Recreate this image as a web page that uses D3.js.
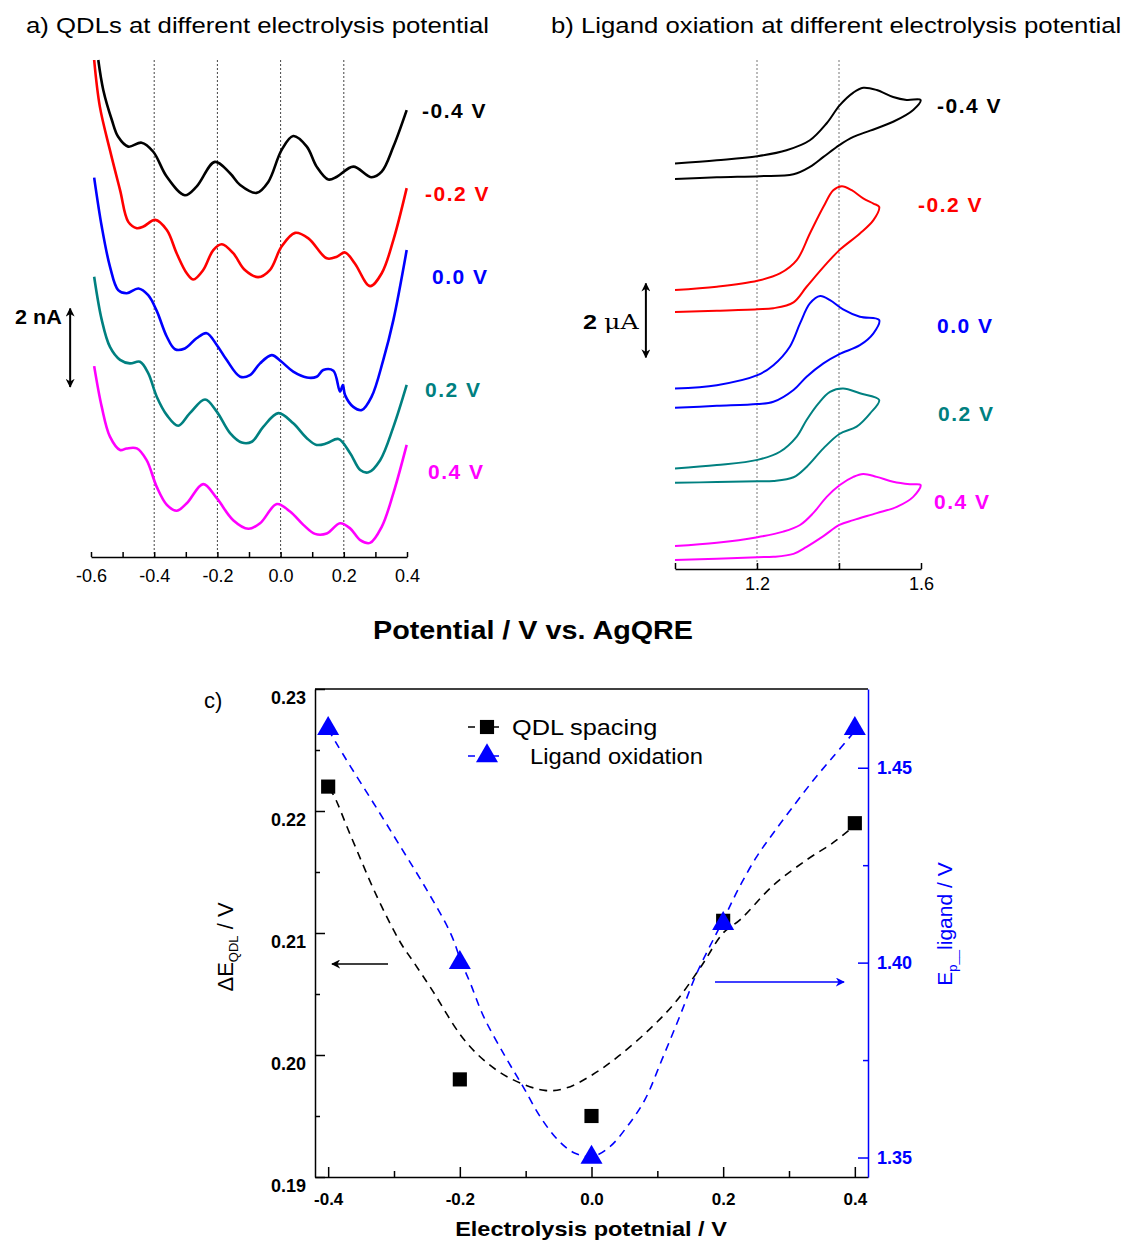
<!DOCTYPE html>
<html>
<head>
<meta charset="utf-8">
<script src="https://cdn.jsdelivr.net/npm/d3@7"></script>
<style>
  body { margin: 0; background: #fff; }
  svg { display: block; font-family: Arial, "Liberation Sans", sans-serif; }
</style>
</head>
<body>
<div class="canvas"></div>
<script>
// Panel a: QDL voltammograms, [potential V, current nA]
const electrolysis = ['-0.4 V', '-0.2 V', '0.0 V', '0.2 V', '0.4 V'];
const colors = ['#000000', '#ff0000', '#0000ff', '#008080', '#ff00ff'];

const qdlNeg04 = [[-0.577,12.68],[-0.561,11.91],[-0.534,11.15],[-0.514,10.72],[-0.482,10.47],[-0.440,10.57],[-0.403,10.34],[-0.360,9.70],[-0.303,9.23],[-0.266,9.45],[-0.208,10.08],[-0.160,9.79],[-0.128,9.49],[-0.076,9.29],[-0.039,9.57],[0.003,10.38],[0.040,10.74],[0.083,10.47],[0.114,9.96],[0.151,9.63],[0.178,9.70],[0.230,9.96],[0.288,9.69],[0.320,9.83],[0.357,10.47],[0.399,11.40]];
const qdlNeg02 = [[-0.590,12.68],[-0.572,11.49],[-0.540,10.38],[-0.508,9.36],[-0.482,8.55],[-0.455,8.39],[-0.434,8.43],[-0.397,8.60],[-0.360,8.34],[-0.329,7.75],[-0.297,7.24],[-0.276,7.08],[-0.245,7.32],[-0.213,7.83],[-0.186,7.98],[-0.150,7.75],[-0.113,7.32],[-0.071,7.14],[-0.034,7.32],[0.003,7.92],[0.046,8.27],[0.088,8.13],[0.146,7.62],[0.178,7.66],[0.204,7.77],[0.235,7.49],[0.283,6.91],[0.320,7.24],[0.357,8.09],[0.399,9.41]];
const qdl00 = [[-0.590,9.68],[-0.566,8.43],[-0.540,7.41],[-0.514,6.81],[-0.487,6.73],[-0.450,6.85],[-0.419,6.68],[-0.392,6.28],[-0.360,5.62],[-0.334,5.30],[-0.303,5.32],[-0.266,5.58],[-0.234,5.71],[-0.202,5.41],[-0.171,5.03],[-0.128,4.60],[-0.097,4.64],[-0.065,4.94],[-0.028,5.15],[0.003,4.98],[0.040,4.73],[0.083,4.58],[0.114,4.60],[0.135,4.77],[0.167,4.75],[0.188,4.22],[0.197,4.39],[0.204,4.13],[0.230,3.83],[0.257,3.75],[0.288,4.09],[0.325,5.03],[0.357,6.05],[0.399,7.83]];
const qdlPos02 = [[-0.590,7.15],[-0.566,6.05],[-0.540,5.36],[-0.508,5.03],[-0.477,4.94],[-0.445,4.98],[-0.419,4.69],[-0.392,4.09],[-0.360,3.62],[-0.324,3.35],[-0.287,3.67],[-0.239,4.02],[-0.202,3.71],[-0.160,3.16],[-0.123,2.92],[-0.091,2.94],[-0.055,3.32],[-0.007,3.67],[0.040,3.41],[0.083,3.03],[0.114,2.86],[0.146,2.90],[0.183,3.01],[0.220,2.65],[0.252,2.22],[0.278,2.16],[0.315,2.47],[0.357,3.32],[0.399,4.39]];
const qdlPos04 = [[-0.590,4.87],[-0.566,3.83],[-0.540,3.07],[-0.508,2.73],[-0.487,2.77],[-0.455,2.77],[-0.424,2.47],[-0.392,1.79],[-0.360,1.33],[-0.329,1.18],[-0.297,1.37],[-0.245,1.86],[-0.202,1.50],[-0.150,0.94],[-0.102,0.72],[-0.065,0.86],[-0.012,1.35],[0.030,1.16],[0.072,0.82],[0.109,0.59],[0.146,0.60],[0.188,0.86],[0.220,0.73],[0.252,0.43],[0.283,0.36],[0.320,0.77],[0.357,1.63],[0.399,2.86]];
const qdlCurves = [qdlNeg04, qdlNeg02, qdl00, qdlPos02, qdlPos04];
const qdlLabelCurrent = [11.40, 9.29, 7.17, 4.29, 2.19];

// Panel b: ligand CV loops, [potential V, current uA]
const cvNeg04 = [[1.000,10.96],[1.102,11.05],[1.201,11.16],[1.272,11.32],[1.329,11.59],[1.370,12.05],[1.402,12.54],[1.435,12.88],[1.459,13.01],[1.492,12.95],[1.532,12.76],[1.565,12.68],[1.599,12.68],[1.581,12.41],[1.532,12.09],[1.476,11.85],[1.435,11.68],[1.401,11.46],[1.362,11.14],[1.329,10.87],[1.289,10.67],[1.207,10.62],[1.102,10.59],[1.000,10.54]];
const cvNeg02 = [[1.000,7.54],[1.102,7.63],[1.201,7.79],[1.256,7.99],[1.297,8.35],[1.329,9.07],[1.362,9.79],[1.386,10.24],[1.407,10.35],[1.431,10.24],[1.459,10.02],[1.484,9.88],[1.498,9.79],[1.484,9.43],[1.451,9.07],[1.401,8.62],[1.370,8.26],[1.321,7.63],[1.289,7.21],[1.240,7.05],[1.201,7.02],[1.102,6.98],[1.000,6.95]];
const cv00 = [[1.000,4.88],[1.102,4.97],[1.201,5.24],[1.240,5.51],[1.280,6.01],[1.305,6.64],[1.329,7.18],[1.354,7.38],[1.378,7.27],[1.410,7.02],[1.451,6.82],[1.498,6.73],[1.484,6.37],[1.451,6.05],[1.401,5.81],[1.362,5.56],[1.321,5.20],[1.289,4.84],[1.240,4.52],[1.201,4.46],[1.102,4.41],[1.000,4.36]];
const cvPos02 = [[1.000,2.72],[1.102,2.81],[1.201,2.95],[1.256,3.17],[1.297,3.58],[1.321,4.03],[1.350,4.48],[1.378,4.79],[1.410,4.88],[1.451,4.75],[1.498,4.57],[1.476,4.21],[1.443,3.85],[1.401,3.65],[1.362,3.26],[1.321,2.76],[1.289,2.48],[1.240,2.38],[1.201,2.37],[1.102,2.35],[1.000,2.33]];
const cvPos04 = [[1.000,0.62],[1.102,0.71],[1.201,0.86],[1.264,1.01],[1.305,1.19],[1.337,1.51],[1.370,1.95],[1.402,2.27],[1.435,2.49],[1.459,2.57],[1.492,2.49],[1.532,2.36],[1.573,2.29],[1.599,2.27],[1.581,1.95],[1.541,1.68],[1.492,1.51],[1.435,1.32],[1.401,1.19],[1.362,0.89],[1.321,0.60],[1.289,0.41],[1.240,0.33],[1.201,0.32],[1.102,0.28],[1.000,0.24]];
const cvCurves = [cvNeg04, cvNeg02, cv00, cvPos02, cvPos04];
const cvLabelCurrent = [12.54, 9.86, 6.59, 4.22, 1.84];

// Panel c: peak data
const electrolysisV = [-0.4, -0.2, 0.0, 0.2, 0.4];
const qdlSpacing = [0.222, 0.198, 0.195, 0.211, 0.219];
const ligandOx = [1.46, 1.40, 1.35, 1.41, 1.46];
// dashed guide curves
const qdlFit = [[-0.400,0.2218],[-0.394,0.2215],[-0.366,0.2180],[-0.326,0.2130],[-0.290,0.2092],[-0.270,0.2076],[-0.243,0.2054],[-0.197,0.2015],[-0.164,0.1996],[-0.124,0.1981],[-0.071,0.1971],[-0.038,0.1973],[0.002,0.1984],[0.041,0.1999],[0.088,0.2021],[0.127,0.2043],[0.167,0.2073],[0.200,0.2100],[0.226,0.2111],[0.276,0.2139],[0.327,0.2160],[0.367,0.2174],[0.393,0.2185]];
const ligandFit = [[-0.400,1.4599],[-0.389,1.4567],[-0.366,1.4503],[-0.331,1.4409],[-0.290,1.4297],[-0.250,1.4186],[-0.214,1.4075],[-0.197,1.3998],[-0.184,1.3947],[-0.164,1.3862],[-0.131,1.3759],[-0.104,1.3682],[-0.078,1.3605],[-0.051,1.3545],[-0.025,1.3511],[0.002,1.3503],[0.028,1.3528],[0.054,1.3579],[0.081,1.3648],[0.107,1.3751],[0.134,1.3862],[0.160,1.3973],[0.200,1.4109],[0.225,1.4195],[0.251,1.4272],[0.276,1.4332],[0.306,1.4400],[0.337,1.4468],[0.367,1.4528],[0.397,1.4588]];

// Containers
const svg = d3.select('.canvas')
    .append('svg')
    .attr('width', 1125)
    .attr('height', 1240);

const defs = svg.append('defs');
const addHead = (id, col) => defs.append('marker')
    .attr('id', id)
    .attr('viewBox', '0 0 10 10')
    .attr('refX', 9).attr('refY', 5)
    .attr('markerWidth', 9).attr('markerHeight', 9)
    .attr('markerUnits', 'userSpaceOnUse')
    .attr('orient', 'auto-start-reverse')
    .append('path').attr('fill', col)
    .attr('d', 'M0,0 L10,5 L0,10 L3,5 Z');
addHead('head', '#000');
addHead('headBlue', '#0000ff');

// text drawn a little wider, like the original figure
const wideText = (parent, x, y, sx, size) => parent.append('text')
    .attr('transform', `translate(${x},${y}) scale(${sx},1)`)
    .attr('font-size', size);

const fmt = d => d.toFixed(1);

// ---------- Panel a ----------
const xA = d3.scaleLinear().domain([-0.6, 0.4]).range([91, 407]);
const yA = d3.scaleLinear().domain([0, 12.68]).range([557, 60]);
const gA = svg.append('g');

wideText(gA, 26, 33, 1.17, 22).text('a) QDLs at different electrolysis potential');

gA.selectAll('.grid').data([-0.4, -0.2, 0.0, 0.2]).enter()
    .append('line')
    .attr('x1', d => xA(d)).attr('x2', d => xA(d))
    .attr('y1', 60).attr('y2', 557)
    .attr('stroke', '#444').attr('stroke-width', 1)
    .attr('stroke-dasharray', '2,2');

const axisA = gA.append('g')
    .attr('transform', 'translate(0,557)')
    .call(d3.axisBottom(xA)
        .tickValues(d3.range(-6, 5).map(i => i / 10))
        .tickSize(-5).tickSizeOuter(0).tickPadding(12)
        .tickFormat(d => (Math.round(d * 10) % 2 === 0 ? fmt(d) : '')));
axisA.select('.domain').attr('stroke-width', 1.5);
axisA.selectAll('.tick line').attr('stroke-width', 1.5);
axisA.selectAll('text').attr('font-size', 18).attr('fill', '#000');

const lineA = d3.line()
    .x(d => xA(d[0])).y(d => yA(d[1]))
    .curve(d3.curveCatmullRom);

gA.selectAll('.qdl').data(qdlCurves).enter()
    .append('path')
    .attr('d', lineA)
    .attr('fill', 'none')
    .attr('stroke', (d, i) => colors[i])
    .attr('stroke-width', 2.6);

gA.selectAll('.qlab').data(electrolysis).enter()
    .append('text')
    .attr('x', (d, i) => [422, 425, 432, 425, 428][i])
    .attr('y', (d, i) => yA(qdlLabelCurrent[i]) + 8)
    .attr('font-size', 21).attr('font-weight', 'bold')
    .attr('letter-spacing', 1.5)
    .attr('fill', (d, i) => colors[i])
    .text(d => d);

// 2 nA scale bar
gA.append('line')
    .attr('x1', xA(-0.666)).attr('x2', xA(-0.666))
    .attr('y1', yA(4.34)).attr('y2', yA(6.34))
    .attr('stroke', '#000').attr('stroke-width', 2)
    .attr('marker-start', 'url(#head)').attr('marker-end', 'url(#head)');
wideText(gA, 15, 324, 1.08, 20).attr('font-weight', 'bold').text('2 nA');

// ---------- Panel b ----------
const xB = d3.scaleLinear().domain([1.0, 1.6]).range([675, 921]);
const yB = d3.scaleLinear().domain([0, 13.76]).range([569, 60]);
const gB = svg.append('g');

wideText(gB, 551, 33, 1.17, 22).text('b) Ligand oxiation at different electrolysis potential');

gB.selectAll('.grid').data([1.2, 1.4]).enter()
    .append('line')
    .attr('x1', d => xB(d)).attr('x2', d => xB(d))
    .attr('y1', 60).attr('y2', 569)
    .attr('stroke', '#777').attr('stroke-width', 1)
    .attr('stroke-dasharray', '2,2');

const axisB = gB.append('g')
    .attr('transform', 'translate(0,569)')
    .call(d3.axisBottom(xB)
        .tickValues([1.0, 1.2, 1.4, 1.6])
        .tickSize(-6).tickSizeOuter(0).tickPadding(8)
        .tickFormat(d => (d === 1.2 || d === 1.6 ? fmt(d) : '')));
axisB.select('.domain').attr('stroke-width', 1.5);
axisB.selectAll('.tick line').attr('stroke-width', 1.5);
axisB.selectAll('text').attr('font-size', 18).attr('fill', '#000');

const lineB = d3.line()
    .x(d => xB(d[0])).y(d => yB(d[1]))
    .curve(d3.curveCatmullRom);

gB.selectAll('.cv').data(cvCurves).enter()
    .append('path')
    .attr('d', lineB)
    .attr('fill', 'none')
    .attr('stroke', (d, i) => colors[i])
    .attr('stroke-width', 2);

gB.selectAll('.clab').data(electrolysis).enter()
    .append('text')
    .attr('x', (d, i) => [937, 918, 937, 938, 934][i])
    .attr('y', (d, i) => yB(cvLabelCurrent[i]) + 8)
    .attr('font-size', 21).attr('font-weight', 'bold')
    .attr('letter-spacing', 1.5)
    .attr('fill', (d, i) => colors[i])
    .text(d => d);

// 2 uA scale bar
gB.append('line')
    .attr('x1', xB(0.929)).attr('x2', xB(0.929))
    .attr('y1', yB(5.72)).attr('y2', yB(7.72))
    .attr('stroke', '#000').attr('stroke-width', 2)
    .attr('marker-start', 'url(#head)').attr('marker-end', 'url(#head)');
const uA = wideText(gB, 583, 329, 1.2, 21).attr('font-weight', 'bold');
uA.append('tspan').text('2 ');
uA.append('tspan').attr('font-family', '"DejaVu Serif", serif').attr('font-weight', 'normal').text('\u03bcA');

wideText(svg, 533, 639, 1.15, 25)
    .attr('text-anchor', 'middle').attr('font-weight', 'bold')
    .text('Potential / V vs. AgQRE');

// ---------- Panel c ----------
const xC = d3.scaleLinear().domain([-0.42, 0.42]).range([315, 868]);
const yL = d3.scaleLinear().domain([0.19, 0.23]).range([1177, 689]);
const yR = d3.scaleLinear().domain([1.345, 1.4702]).range([1177, 689]);
const gC = svg.append('g');

gC.append('text').attr('x', 204).attr('y', 708).attr('font-size', 22).text('c)');

// frame top
gC.append('line').attr('x1', 315).attr('x2', 868).attr('y1', 689).attr('y2', 689)
    .attr('stroke', '#000').attr('stroke-width', 1.5);

const axisBottomC = gC.append('g')
    .attr('transform', 'translate(0,1177)')
    .call(d3.axisBottom(xC)
        .tickValues(d3.range(-4, 5).map(i => i / 10))
        .tickSize(-10).tickSizeOuter(0).tickPadding(16)
        .tickFormat(d => (Math.round(d * 10) % 2 === 0 ? fmt(d) : '')));
axisBottomC.selectAll('.tick').filter(d => Math.round(d * 10) % 2 !== 0)
    .select('line').attr('y2', -6);
axisBottomC.select('.domain').attr('stroke-width', 1.5);
axisBottomC.selectAll('.tick line').attr('stroke-width', 1.5);
axisBottomC.selectAll('text').attr('font-size', 17).attr('font-weight', 'bold').attr('fill', '#000');

const axisLeftC = gC.append('g')
    .attr('transform', 'translate(315,0)')
    .call(d3.axisLeft(yL)
        .tickValues(d3.range(0, 9).map(i => 0.19 + i * 0.005))
        .tickSize(-10).tickSizeOuter(0).tickPadding(9)
        .tickFormat((d, i) => (i % 2 === 0 ? d.toFixed(2) : '')));
axisLeftC.selectAll('.tick').filter((d, i) => i % 2 !== 0)
    .select('line').attr('x2', 5);
axisLeftC.select('.domain').attr('stroke-width', 1.5);
axisLeftC.selectAll('.tick line').attr('stroke-width', 1.5);
axisLeftC.selectAll('text').attr('font-size', 18).attr('font-weight', 'bold')
    .attr('fill', '#000').attr('dy', '0.8em');

const axisRightC = gC.append('g')
    .attr('transform', 'translate(868,0)')
    .call(d3.axisRight(yR)
        .tickValues([1.35, 1.375, 1.40, 1.425, 1.45])
        .tickSize(-10).tickSizeOuter(0).tickPadding(9)
        .tickFormat((d, i) => (i % 2 === 0 ? d.toFixed(2) : '')));
axisRightC.selectAll('.tick').filter((d, i) => i % 2 !== 0)
    .select('line').attr('x2', -5);
axisRightC.select('.domain').attr('stroke', '#0000ff').attr('stroke-width', 1.5);
axisRightC.selectAll('.tick line').attr('stroke', '#0000ff').attr('stroke-width', 1.5);
axisRightC.selectAll('text').attr('font-size', 18).attr('font-weight', 'bold')
    .attr('fill', '#0000ff');

// dashed curves
gC.append('path')
    .attr('d', d3.line().x(d => xC(d[0])).y(d => yL(d[1])).curve(d3.curveCatmullRom)(qdlFit))
    .attr('fill', 'none').attr('stroke', '#000').attr('stroke-width', 1.6)
    .attr('stroke-dasharray', '8,6');
gC.append('path')
    .attr('d', d3.line().x(d => xC(d[0])).y(d => yR(d[1])).curve(d3.curveCatmullRom)(ligandFit))
    .attr('fill', 'none').attr('stroke', '#0000ff').attr('stroke-width', 1.6)
    .attr('stroke-dasharray', '8,6');

const square = d3.symbol().type(d3.symbolSquare).size(200);
const triangle = d3.symbol().type(d3.symbolTriangle).size(210);

gC.selectAll('.sq').data(electrolysisV).enter()
    .append('path')
    .attr('d', square)
    .attr('transform', (d, i) => `translate(${xC(d)},${yL(qdlSpacing[i])})`)
    .attr('fill', '#000');

gC.selectAll('.tri').data(electrolysisV).enter()
    .append('path')
    .attr('d', triangle)
    .attr('transform', (d, i) => `translate(${xC(d)},${yR(ligandOx[i])})`)
    .attr('fill', '#0000ff');

// legend
const legend = gC.append('g');
[['QDL spacing', '#000', square, 727, 512, 1.15], ['Ligand oxidation', '#0000ff', triangle, 756, 530, 1.08]]
    .forEach(([name, col, sym, y, tx, sx]) => {
        legend.append('line').attr('x1', 468).attr('x2', 506).attr('y1', y).attr('y2', y)
            .attr('stroke', col).attr('stroke-width', 1.6).attr('stroke-dasharray', '7,17');
        legend.append('path').attr('d', sym).attr('fill', col)
            .attr('transform', `translate(487,${y})`);
        wideText(legend, tx, y + 8, sx, 22).text(name);
    });

// direction arrows
gC.append('line').attr('x1', 388).attr('x2', 332).attr('y1', 964).attr('y2', 964)
    .attr('stroke', '#000').attr('stroke-width', 1.6).attr('marker-end', 'url(#head)');
gC.append('line').attr('x1', 715).attr('x2', 844).attr('y1', 982).attr('y2', 982)
    .attr('stroke', '#0000ff').attr('stroke-width', 1.6)
    .attr('marker-end', 'url(#headBlue)');

// axis titles
wideText(gC, 591, 1236, 1.12, 21)
    .attr('text-anchor', 'middle').attr('font-weight', 'bold')
    .text('Electrolysis potetnial / V');

const yLab = gC.append('text')
    .attr('transform', 'translate(233,947) rotate(-90)')
    .attr('text-anchor', 'middle').attr('font-size', 22);
yLab.append('tspan').text('\u0394E');
yLab.append('tspan').attr('font-size', 13).attr('dy', 5).text('QDL');
yLab.append('tspan').attr('dy', -5).text(' / V');

const yRLab = gC.append('text')
    .attr('transform', 'translate(952,924) rotate(-90)')
    .attr('text-anchor', 'middle').attr('font-size', 21).attr('fill', '#0000ff');
yRLab.append('tspan').text('E');
yRLab.append('tspan').attr('font-size', 13).attr('dy', 5).text('p');
yRLab.append('tspan').attr('font-size', 13).text('__');
yRLab.append('tspan').attr('dy', -5).text('ligand / V');
</script>
</body>
</html>
